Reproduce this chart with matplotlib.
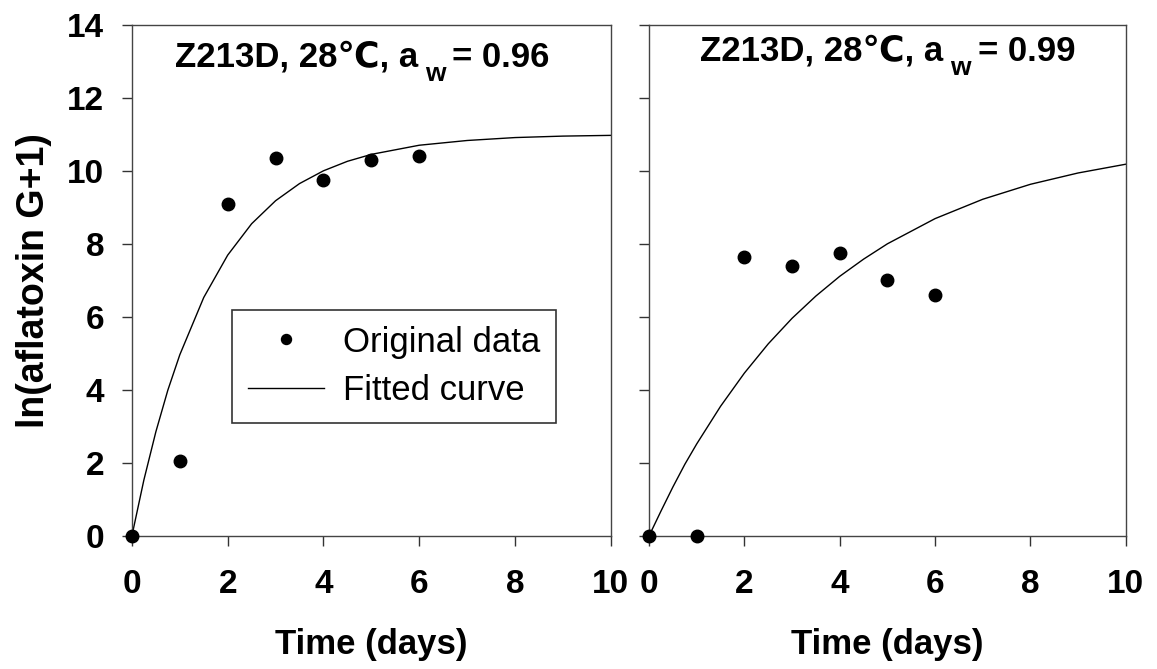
import numpy as np
import matplotlib
matplotlib.use('Agg')
import matplotlib.pyplot as plt

plt.rcParams['font.family'] = ['Liberation Sans', 'DejaVu Sans']

# observed data
days = [0, 1, 2, 3, 4, 5, 6]
obs_096 = [0, 2.05, 9.1, 10.35, 9.75, 10.3, 10.4]
obs_099 = [0, 0, 7.65, 7.4, 7.75, 7.0, 6.6]

# fitted curves
fit_x = [0, 0.25, 0.5, 0.75, 1, 1.5, 2, 2.5, 3, 3.5, 4, 4.5, 5, 6, 7, 8, 9, 10]
fit_096 = [0, 1.53, 2.85, 3.99, 4.96, 6.53, 7.69, 8.55, 9.18, 9.65, 10.0, 10.26,
           10.45, 10.70, 10.83, 10.91, 10.95, 10.97]
fit_099 = [0, 0.68, 1.34, 1.96, 2.52, 3.55, 4.46, 5.26, 5.96, 6.57, 7.11, 7.58,
           8.00, 8.69, 9.22, 9.63, 9.94, 10.18]

aw = ['0.96', '0.99']

fig = plt.figure(figsize=(11.57, 6.69), dpi=100)
ax1 = fig.add_axes([0.114, 0.199, 0.414, 0.764])
ax2 = fig.add_axes([0.561, 0.199, 0.412, 0.764])

FS = 25
for ax, obs, fit, a, tx, ty in [(ax1, obs_096, fit_096, aw[0], 0.089, 0.918),
                                (ax2, obs_099, fit_099, aw[1], 0.107, 0.93)]:
    ax.plot(days, obs, 'o', color='black', markersize=9, clip_on=False, zorder=5,
            label='Original data')
    ax.plot(fit_x, fit, '-', color='black', linewidth=1.0, label='Fitted curve')
    ax.set_xlim(0, 10)
    ax.set_ylim(0, 14)
    ax.set_xticks(np.arange(0, 11, 2))
    ax.set_yticks(np.arange(0, 15, 2))
    ax.tick_params(direction='out', length=7, width=1, labelsize=24, pad=13,
                   colors='#333333', labelcolor='black')
    ax.tick_params(axis='x', pad=17)
    for lab in ax.get_xticklabels() + ax.get_yticklabels():
        lab.set_fontweight('bold')
    for s in ax.spines.values():
        s.set_linewidth(1.0)
        s.set_color('#444444')
    ax.set_xlabel('Time (days)', fontsize=FS, fontweight='bold', labelpad=20)
    # title with lowered "w"
    t1 = ax.text(tx, ty, 'Z213D, 28\u2103, a', transform=ax.transAxes, ha='left',
                 va='baseline', fontsize=FS, fontweight='bold')
    t2 = ax.annotate('w', xy=(1, 0), xycoords=t1, xytext=(5, -9),
                     textcoords='offset points', va='bottom', ha='left',
                     fontsize=FS - 6, fontweight='bold')
    ax.annotate('= ' + a, xy=(1, 0), xycoords=(t2, t1), xytext=(5, 0),
                textcoords='offset points', va='bottom', ha='left',
                fontsize=FS, fontweight='bold')

ax2.set_yticklabels([])
ax1.set_ylabel('ln(aflatoxin G+1)', fontsize=27, fontweight='bold', labelpad=11)

leg = ax1.legend(loc='upper left', bbox_to_anchor=(0.209, 0.442), fontsize=FS,
                 frameon=True, fancybox=False, edgecolor='black', handlelength=2.2,
                 borderpad=0.45, labelspacing=0.45, handletextpad=0.55, markerscale=0.8,
                 borderaxespad=0)
leg.get_frame().set_linewidth(1.2)

fig.savefig('out.png', dpi=100)
